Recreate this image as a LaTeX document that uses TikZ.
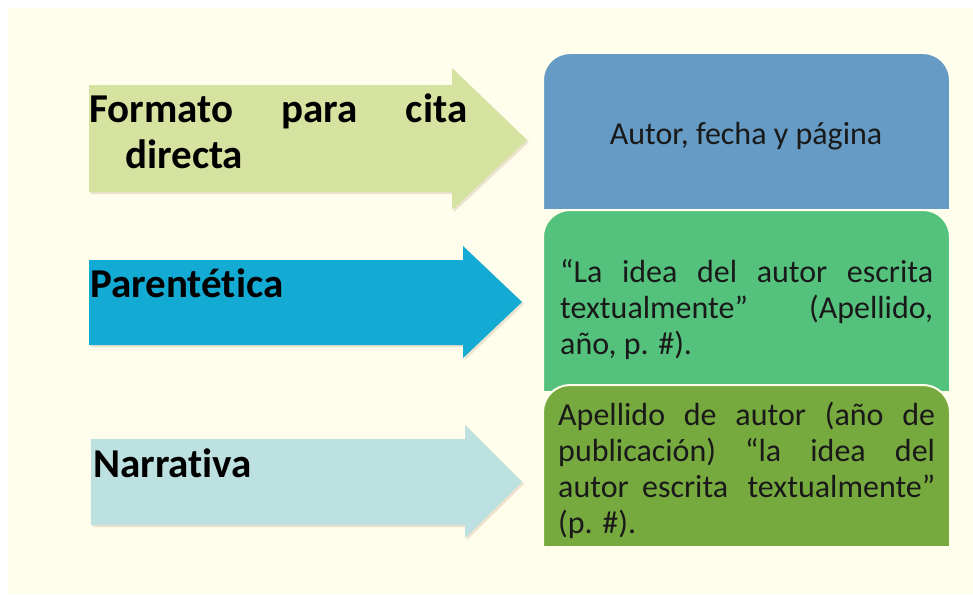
\documentclass[tikz,border=0pt]{standalone}
\usepackage{fontspec}
\setmainfont{Carlito}[Ligatures=NoCommon]
\usepackage{tikz}

\definecolor{crema}{HTML}{FFFDEB}
\definecolor{verdeA}{HTML}{D6E2A0}
\definecolor{cianA}{HTML}{13AAD4}
\definecolor{celesteA}{HTML}{BDE0E0}
\definecolor{azulC}{HTML}{659BC4}
\definecolor{verdeC}{HTML}{54C27D}
\definecolor{olivaC}{HTML}{77AA3E}
\definecolor{sombra}{HTML}{EBE3CD}

\begin{document}
\begin{tikzpicture}[x=1pt, y=-1pt,
		caja/.style = {draw=crema, line width=2pt},
		izq/.style = {anchor=base west, inner sep=0pt, font=\fontsize{41}{46}\selectfont\bfseries, text=black},
		der/.style = {anchor=base west, inner sep=0pt, font=\fontsize{32}{36}\selectfont, text=black!90}]
		\useasboundingbox (0,0) rectangle (973,594);
		\fill[white] (0,0) rectangle (973,594);
		\fill[crema] (8,8) rectangle (973,594);
		% flechas de la izquierda
		\fill[sombra] (91,87) -- (454,87) -- (454,70) -- (529,142) -- (454,212) -- (454,194) -- (91,194) -- cycle;
		\fill[verdeA] (89,85) -- (452,85) -- (452,68) -- (527,140) -- (452,210) -- (452,192) -- (89,192) -- cycle;
		\fill[sombra] (91,262) -- (465,262) -- (465,248) -- (524,304) -- (465,360) -- (465,347) -- (91,347) -- cycle;
		\fill[cianA] (89,260) -- (463,260) -- (463,246) -- (522,302) -- (463,358) -- (463,345) -- (89,345) -- cycle;
		\fill[sombra] (93,441) -- (467,441) -- (467,427) -- (524,484) -- (467,540) -- (467,527) -- (93,527) -- cycle;
		\fill[celesteA] (91,439) -- (465,439) -- (465,425) -- (522,482) -- (465,538) -- (465,525) -- (91,525) -- cycle;
		% cajas de la derecha
		\filldraw[caja, fill=azulC] (543,210) [rounded corners=27pt] -- (543,53) -- (950,53) [sharp corners] -- (950,210) -- cycle;
		\filldraw[caja, fill=verdeC] (543,392) [rounded corners=27pt] -- (543,210) -- (950,210) [sharp corners] -- (950,392) -- cycle;
		\filldraw[caja, fill=olivaC] (543,547) [rounded corners=27pt] -- (543,385) -- (950,385) [sharp corners] -- (950,547) -- cycle;
		% textos
		\node[izq] (1) at (89,122) {\parbox[t]{378pt}{\makebox[378pt][s]{Formato para cita}\\\hspace*{36pt}directa}};
		\node[izq] (2) at (90,297) {Parentética};
		\node[izq] (3) at (93,477) {Narrativa};
		\node[der, anchor=base] (4) at (746,144) {Autor, fecha y página};
		\node[der] (5) at (560,282) {\parbox[t]{373pt}{\makebox[373pt][s]{“La idea del autor escrita}\\\makebox[373pt][s]{textualmente” \hspace{40pt} (Apellido,}\\año, p. \#).}};
		\node[der] (6) at (558,425) {\parbox[t]{377pt}{\makebox[377pt][s]{Apellido de autor (año de}\\\makebox[377pt][s]{publicación) “la idea del}\\\makebox[377pt][s]{autor escrita\hspace{6pt} textualmente”}\\(p. \#).}};
	\end{tikzpicture}
\end{document}
